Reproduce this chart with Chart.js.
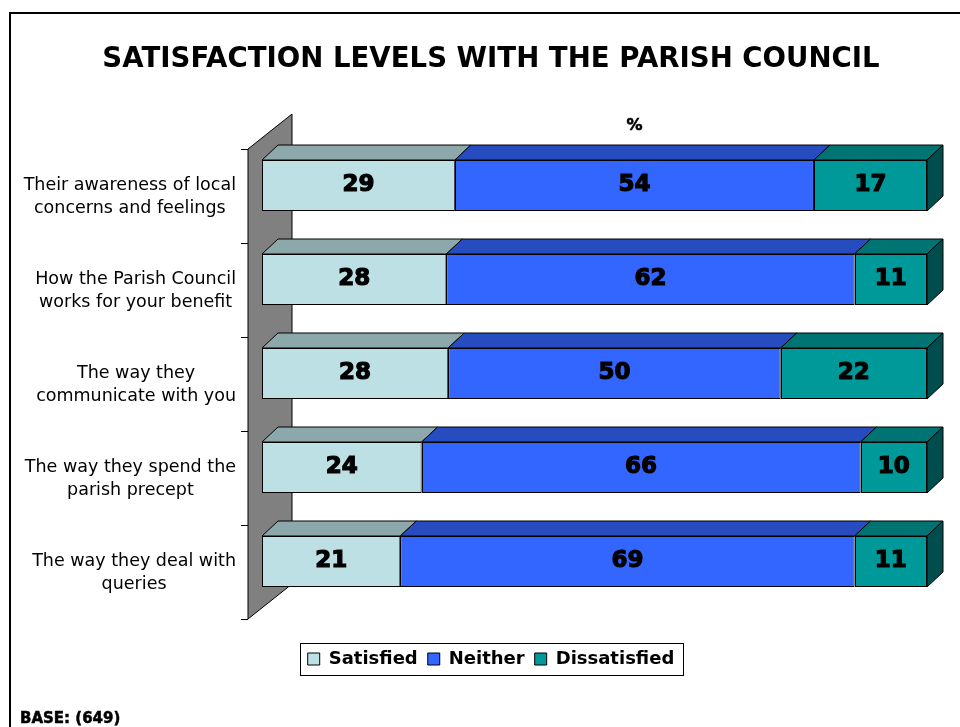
<!DOCTYPE html>
<html><head><meta charset="utf-8">
<script src="https://cdn.jsdelivr.net/npm/chart.js@4"></script>
<style>html,body{margin:0;padding:0;background:#fff;}#wrap{width:960px;height:727px;position:relative;}</style>
</head><body>
<div id="wrap"><canvas id="c" width="960" height="727"></canvas></div>
<script>
const categories = [
  ['Their awareness of local', 'concerns and feelings'],
  ['How the Parish Council', 'works for your benefit'],
  ['The way they', 'communicate with you'],
  ['The way they spend the', 'parish precept'],
  ['The way they deal with', 'queries']
];
const satisfied = [29, 28, 28, 24, 21];
const neither = [54, 62, 50, 66, 69];
const dissatisfied = [17, 11, 22, 10, 11];
const seriesNames = ['Satisfied', 'Neither', 'Dissatisfied'];
const titleText = 'SATISFACTION LEVELS WITH THE PARISH COUNCIL';
const axisUnit = '%';
const baseNote = 'BASE: (649)';

const FONT = "'DejaVu Sans', Verdana, sans-serif";
const raw = [satisfied, neither, dissatisfied];
const totals = categories.map((_, i) => raw.reduce((s, a) => s + a[i], 0));
const styles = [
  {bg: '#BCE0E3', top: '#8DA8AA', side: '#5E7072'},
  {bg: '#3366FF', top: '#264CBF', side: '#1A3380'},
  {bg: '#009999', top: '#007373', side: '#004D4D'}
];
const datasets = raw.map((arr, k) => ({
  label: seriesNames[k],
  data: arr.map((v, i) => v / totals[i] * 100),
  rawValues: arr,
  backgroundColor: styles[k].bg,
  topColor: styles[k].top,
  sideColor: styles[k].side,
  borderColor: '#000',
  borderWidth: 1,
  borderSkipped: false,
  barPercentage: 51 / 94,
  categoryPercentage: 1
}));

function poly(ctx, pts) {
  ctx.beginPath();
  ctx.moveTo(pts[0][0], pts[0][1]);
  for (let i = 1; i < pts.length; i++) ctx.lineTo(pts[i][0], pts[i][1]);
  ctx.closePath();
  ctx.fill();
  ctx.stroke();
}
function boldText(ctx, txt, x, y, w) {
  ctx.fillText(txt, x, y);
  ctx.lineWidth = w;
  ctx.strokeStyle = ctx.fillStyle;
  ctx.strokeText(txt, x, y);
}

const threeD = {
  id: 'threeD',
  beforeDatasetsDraw(chart) {
    const ctx = chart.ctx, ca = chart.chartArea, ys = chart.scales.y;
    const n = categories.length;
    const step = (ca.bottom - ca.top) / n;
    const wx = ca.left - 14, off = 10.5, dx = 44, dy = -35;
    const wt = ca.top + off, wb = ca.bottom + off;
    ctx.save();
    ctx.lineWidth = 1;
    ctx.strokeStyle = '#000';
    ctx.fillStyle = '#808080';
    poly(ctx, [[wx, wt], [wx + dx, wt + dy], [wx + dx, wb + dy], [wx, wb]]);
    ctx.beginPath();
    for (let i = 0; i <= n; i++) {
      const y = Math.round(ys.getPixelForValue(0) - step / 2 + i * step + off) + 0.5;
      ctx.moveTo(wx - 7, y);
      ctx.lineTo(wx, y);
    }
    ctx.stroke();
    const D = 16, E = -15;
    const last = chart.data.datasets.length - 1;
    chart.data.datasets.forEach((ds, di) => {
      const meta = chart.getDatasetMeta(di);
      meta.data.forEach(bar => {
        const p = bar.getProps(['x', 'y', 'base', 'height'], true);
        const t = p.y - p.height / 2, b = p.y + p.height / 2;
        ctx.fillStyle = ds.topColor;
        poly(ctx, [[p.base, t], [p.x, t], [p.x + D, t + E], [p.base + D, t + E]]);
        if (di === last) {
          ctx.fillStyle = ds.sideColor;
          poly(ctx, [[p.x, t], [p.x + D, t + E], [p.x + D, b + E], [p.x, b]]);
        }
      });
    });
    ctx.restore();
  },
  afterDatasetsDraw(chart) {
    const ctx = chart.ctx;
    ctx.save();
    // crisp segment dividers
    ctx.strokeStyle = '#000';
    ctx.lineWidth = 1;
    ctx.beginPath();
    chart.data.datasets.forEach((ds, di) => {
      if (di === 0) return;
      chart.getDatasetMeta(di).data.forEach(bar => {
        const p = bar.getProps(['y', 'base', 'height'], true);
        const x = Math.round(p.base) + 0.5;
        ctx.moveTo(x, p.y - p.height / 2);
        ctx.lineTo(x, p.y + p.height / 2);
      });
    });
    ctx.stroke();
    ctx.font = 'bold 23px ' + FONT;
    ctx.fillStyle = '#000';
    ctx.textAlign = 'center';
    ctx.textBaseline = 'middle';
    chart.data.datasets.forEach((ds, di) => {
      chart.getDatasetMeta(di).data.forEach((bar, i) => {
        const p = bar.getProps(['x', 'y', 'base'], true);
        boldText(ctx, String(ds.rawValues[i]), (p.x + p.base) / 2, p.y, 1.2);
      });
    });
    ctx.restore();
  },
  afterDraw(chart) {
    const ctx = chart.ctx, ca = chart.chartArea, ys = chart.scales.y;
    ctx.save();
    ctx.font = '17.5px ' + FONT;
    ctx.fillStyle = '#000';
    ctx.textAlign = 'center';
    ctx.textBaseline = 'middle';
    categories.forEach((lines, i) => {
      const w = Math.max(...lines.map(l => ctx.measureText(l).width));
      const cx = ca.left - 26 - w / 2;
      const cy = ys.getPixelForValue(i) + 11;
      lines.forEach((l, j) => ctx.fillText(l, cx, cy + (j - (lines.length - 1) / 2) * 23));
    });
    ctx.font = 'bold 16px ' + FONT;
    boldText(ctx, axisUnit, ca.left + 0.56 * (ca.right - ca.left), ca.top - 13, 0.6);
    const lg = chart.legend;
    if (lg && lg.legendHitBoxes && lg.legendHitBoxes.length) {
      const hb = lg.legendHitBoxes;
      const l = hb[0].left - 8, r = hb[hb.length - 1].left + hb[hb.length - 1].width + 8;
      const cy = hb[0].top + hb[0].height / 2;
      ctx.lineWidth = 1;
      ctx.strokeStyle = '#000';
      ctx.strokeRect(Math.round(l) + 0.5, Math.round(cy - 16) + 0.5, Math.round(r - l), 32);
    }
    ctx.font = 'bold 15px ' + FONT;
    ctx.textAlign = 'left';
    boldText(ctx, baseNote, 20, 719, 0.5);
    ctx.strokeStyle = '#000';
    ctx.lineWidth = 2;
    ctx.beginPath();
    ctx.moveTo(10, 727);
    ctx.lineTo(10, 13);
    ctx.lineTo(960, 13);
    ctx.stroke();
    ctx.restore();
  }
};

new Chart(document.getElementById('c'), {
  type: 'bar',
  data: {labels: categories, datasets},
  plugins: [threeD],
  options: {
    indexAxis: 'y',
    responsive: false,
    animation: false,
    devicePixelRatio: 1,
    layout: {padding: {left: 22, right: 0, top: 0, bottom: 49}},
    scales: {
      x: {
        type: 'linear', stacked: true, min: 0, max: 100,
        ticks: {display: false}, grid: {display: false}, border: {display: false},
        afterFit: s => { s.height = 31.5; }
      },
      y: {
        type: 'category', stacked: true,
        ticks: {display: false}, grid: {display: false}, border: {display: false},
        afterFit: s => { s.width = 240; }
      },
      yR: {
        axis: 'y', type: 'linear', position: 'right',
        ticks: {display: false}, grid: {display: false}, border: {display: false},
        afterFit: s => { s.width = 33; }
      }
    },
    plugins: {
      title: {
        display: true, text: titleText, color: '#000',
        font: {family: FONT, size: 27.6, weight: 'bold', lineHeight: 1.2},
        padding: {top: 43, bottom: 62.4}
      },
      legend: {
        position: 'bottom',
        labels: {
          color: '#000', boxWidth: 12, boxHeight: 12, padding: 10,
          font: {family: FONT, size: 18, weight: 'bold'}
        }
      },
      tooltip: {enabled: false}
    }
  }
});
</script>
</body></html>
